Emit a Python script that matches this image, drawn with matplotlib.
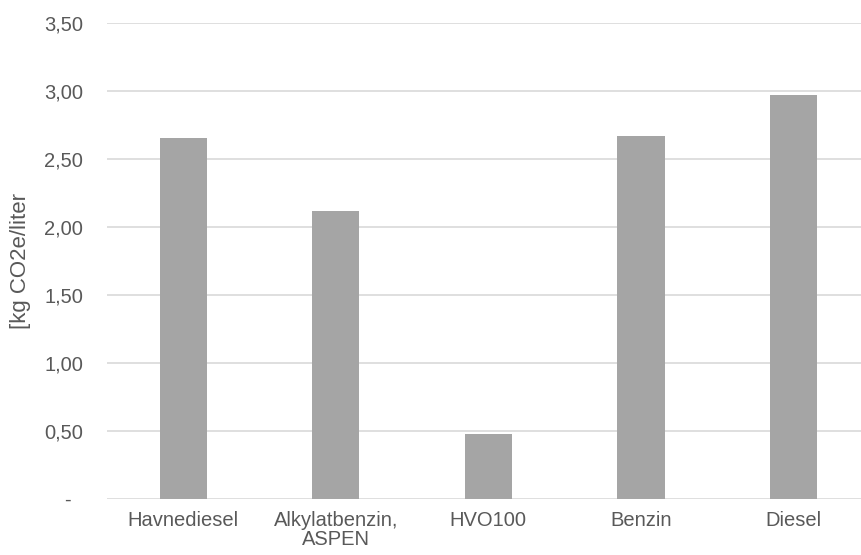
import matplotlib.pyplot as plt
from matplotlib.ticker import FuncFormatter

plt.rcParams['font.family'] = ['Liberation Sans', 'DejaVu Sans']

fuels = ["Havnediesel", "Alkylatbenzin,\nASPEN", "HVO100", "Benzin", "Diesel"]
emissions = [2.65, 2.12, 0.48, 2.67, 2.97]
yticks = [0, 0.5, 1.0, 1.5, 2.0, 2.5, 3.0, 3.5]

text_color = "#595959"

fig = plt.figure(figsize=(8.62, 5.55), dpi=100)
ax = fig.add_axes([0.124, 0.101, 0.885, 0.858])

x = range(len(fuels))
ax.bar(x, emissions, width=0.31, color="#a5a5a5", zorder=2)

ax.set_xlim(-0.5, len(fuels) - 0.5)
ax.set_ylim(0, 3.5)
ax.set_yticks(yticks)
ax.yaxis.set_major_formatter(
    FuncFormatter(lambda v, p: "-  " if v == 0 else f"{v:.2f}".replace(".", ",")))
ax.set_xticks(list(x))
ax.set_xticklabels(fuels, linespacing=0.95)

ax.grid(axis="y", color="#d9d9d9", linewidth=1.2, zorder=0)
for s in ax.spines.values():
    s.set_visible(False)
ax.tick_params(axis="both", length=0, labelsize=14.5, labelcolor=text_color)
ax.tick_params(axis="y", pad=17)
ax.tick_params(axis="x", pad=9)

ax.set_ylabel("[kg CO2e/liter", fontsize=16, color=text_color)
ax.yaxis.set_label_coords(-0.100, 0.5)

fig.savefig("out.png", dpi=100)
